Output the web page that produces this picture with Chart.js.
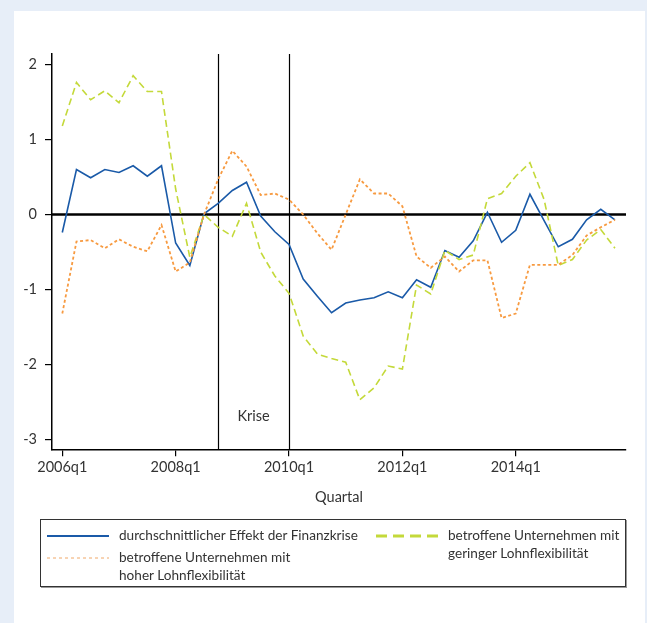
<!DOCTYPE html>
<html>
<head>
<meta charset="utf-8">
<script src="https://cdn.jsdelivr.net/npm/chart.js@4.4.1/dist/chart.umd.min.js"></script>
<style>
  body { margin: 0; background: #e7eef8; width: 647px; height: 623px; overflow: hidden; font-family: Lato, sans-serif; color: #333; }
  #panel { position: absolute; left: 14px; top: 11px; width: 631px; height: 612px; background: #fff; }
  #wrap { position: absolute; left: 0; top: 0; width: 647px; height: 520px; }
  #legend { position: absolute; left: 40px; top: 519px; width: 584px; height: 66px; border: 1.5px solid #333; box-shadow: 1px 1px 0 #999; }
  .item { position: absolute; font-size: 13.6px; line-height: 17.5px; white-space: nowrap; }
  .sample { position: absolute; }
</style>
</head>
<body>
<div id="panel"></div>
<div id="wrap"><canvas id="graph"></canvas></div>
<div id="legend"></div>

<script>
const years = [2006, 2007, 2008, 2009, 2010, 2011, 2012, 2013, 2014, 2015]
const quarters = []
years.forEach((y)=>{ for(let q=1;q<=4;q++) quarters.push(y + 'q' + q) })

const xTickIdx = [0, 8, 16, 24, 32]
const yTicks = [-3, -2, -1, 0, 1, 2]
const crisisStart = 11   // 2008q4
const crisisEnd = 16     // 2010q1

const seriesNames = [
    'durchschnittlicher Effekt der Finanzkrise',
    'betroffene Unternehmen mit geringer Lohnflexibilität',
    'betroffene Unternehmen mit hoher Lohnflexibilität'
]

const avgEffect = [-0.24, 0.60, 0.49, 0.60, 0.56, 0.65, 0.51, 0.65, -0.38, -0.68,
    0.01, 0.15, 0.32, 0.43, -0.02, -0.23, -0.40, -0.86, -1.09, -1.31,
    -1.18, -1.14, -1.11, -1.03, -1.11, -0.87, -0.97, -0.48, -0.57, -0.35,
    0.03, -0.37, -0.21, 0.27, -0.08, -0.43, -0.33, -0.07, 0.07, -0.07]

const lowFlex = [1.18, 1.76, 1.53, 1.65, 1.49, 1.85, 1.64, 1.64, 0.34, -0.57,
    0.0, -0.17, -0.29, 0.15, -0.50, -0.82, -1.05, -1.62, -1.86, -1.92,
    -1.97, -2.47, -2.31, -2.02, -2.06, -0.94, -1.06, -0.48, -0.60, -0.54,
    0.21, 0.28, 0.51, 0.69, 0.20, -0.68, -0.60, -0.34, -0.20, -0.45]

const highFlex = [-1.32, -0.36, -0.34, -0.45, -0.33, -0.43, -0.49, -0.14, -0.76, -0.64,
    0.0, 0.47, 0.85, 0.64, 0.26, 0.28, 0.20, 0.0, -0.25, -0.47,
    0.0, 0.47, 0.28, 0.28, 0.11, -0.56, -0.71, -0.56, -0.76, -0.61,
    -0.61, -1.38, -1.32, -0.67, -0.67, -0.67, -0.54, -0.28, -0.17, -0.07]

const BLUE = '#1a5aa8'
const GREEN = '#c4d93a'
const ORANGE = '#f79a40'

function toPoints(arr){
    return arr.map((v, i)=> ({x: i, y: v}))
}

// zero line, crisis lines and label
const refLines = {
    id: 'refLines',
    beforeDatasetsDraw(chart){
        const {ctx, chartArea, scales} = chart
        const x = scales.x, y = scales.y
        ctx.save()
        ctx.strokeStyle = '#000'
        ctx.lineWidth = 1.2
        ;[crisisStart, crisisEnd].forEach((q)=>{
            const px = Math.round(x.getPixelForValue(q)) + 0.5
            ctx.beginPath()
            ctx.moveTo(px, chartArea.top)
            ctx.lineTo(px, chartArea.bottom)
            ctx.stroke()
        })
        ctx.lineWidth = 2.4
        const py = y.getPixelForValue(0)
        ctx.beginPath()
        ctx.moveTo(chartArea.left, py)
        ctx.lineTo(chartArea.right, py)
        ctx.stroke()
        ctx.fillStyle = '#333'
        ctx.font = '14.5px Lato'
        ctx.textAlign = 'center'
        ctx.textBaseline = 'middle'
        const mid = (x.getPixelForValue(crisisStart) + x.getPixelForValue(crisisEnd)) / 2
        ctx.fillText('Krise', mid, y.getPixelForValue(-2.69))
        ctx.restore()
    }
}

const canvas = document.querySelector('#graph')
const ctx = canvas.getContext('2d')

new Chart(ctx, {
    type: 'line',
    data: {
        datasets: [
            {label: seriesNames[0], data: toPoints(avgEffect), borderColor: BLUE, borderWidth: 1.6, order: 2},
            {label: seriesNames[1], data: toPoints(lowFlex), borderColor: GREEN, borderWidth: 1.6, borderDash: [7, 4], order: 1},
            {label: seriesNames[2], data: toPoints(highFlex), borderColor: ORANGE, borderWidth: 1.8, borderDash: [3, 2.5], order: 0}
        ]
    },
    options: {
        responsive: true,
        maintainAspectRatio: false,
        animation: false,
        layout: {padding: {top: 54, right: 21, left: 0, bottom: 0}},
        elements: {point: {radius: 0}, line: {tension: 0, fill: false}},
        plugins: {legend: {display: false}, tooltip: {enabled: false}},
        scales: {
            x: {
                type: 'linear',
                min: -0.727,
                max: 39.78,
                afterBuildTicks: (scale)=>{ scale.ticks = xTickIdx.map((v)=>({value: v})) },
                afterFit: (scale)=>{ scale.height = 70.7 },
                ticks: {
                    callback: (v)=> quarters[v],
                    color: '#333',
                    font: {family: 'Lato', size: 14.5},
                    padding: 2,
                    maxRotation: 0,
                    autoSkip: false
                },
                grid: {drawOnChartArea: false, tickLength: 7, color: '#000', lineWidth: 1.2},
                border: {color: '#000', width: 1.5},
                title: {display: true, text: 'Quartal', color: '#333', font: {family: 'Lato', size: 14.5}, padding: {top: 0, bottom: 13.6}}
            },
            y: {
                min: -3.13,
                max: 2.14,
                afterBuildTicks: (scale)=>{ scale.ticks = yTicks.map((v)=>({value: v})) },
                afterFit: (scale)=>{ scale.width = 52 },
                ticks: {
                    color: '#333',
                    font: {family: 'Lato', size: 14.5},
                    padding: 8
                },
                grid: {drawOnChartArea: false, tickLength: 7, color: '#000', lineWidth: 1.2},
                border: {color: '#000', width: 1.5}
            }
        }
    },
    plugins: [refLines]
})

// LEGEND
const legend = document.querySelector('#legend')
const legendItems = [
    {name: seriesNames[0], lines: ['durchschnittlicher Effekt der Finanzkrise'], color: BLUE, width: 2.2, dash: '', left: 6, top: 16},
    {name: seriesNames[1], lines: ['betroffene Unternehmen mit', 'geringer Lohnflexibilität'], color: GREEN, width: 3, dash: '11 6', left: 335, top: 16},
    {name: seriesNames[2], lines: ['betroffene Unternehmen mit', 'hoher Lohnflexibilität'], color: '#f0a868', width: 1, dash: '3 3', left: 6, top: 38}
]

function printLegend(){
    legend.innerHTML = ''
    legendItems.forEach((it)=>{
        const svg = document.createElementNS('http://www.w3.org/2000/svg', 'svg')
        svg.setAttribute('class', 'sample')
        svg.setAttribute('width', '62')
        svg.setAttribute('height', '6')
        svg.style.left = it.left + 'px'
        svg.style.top = (it.top - 3) + 'px'
        const line = document.createElementNS('http://www.w3.org/2000/svg', 'line')
        line.setAttribute('x1', '0'); line.setAttribute('x2', '62')
        line.setAttribute('y1', '3'); line.setAttribute('y2', '3')
        line.setAttribute('stroke', it.color)
        line.setAttribute('stroke-width', it.width)
        if(it.dash) line.setAttribute('stroke-dasharray', it.dash)
        svg.appendChild(line)
        legend.appendChild(svg)

        const div = document.createElement('div')
        div.className = 'item'
        div.style.left = (it.left + 72) + 'px'
        div.style.top = (it.top - 9) + 'px'
        div.innerHTML = it.lines.join('<br>')
        legend.appendChild(div)
    })
}
printLegend()
</script>
</body>
</html>
